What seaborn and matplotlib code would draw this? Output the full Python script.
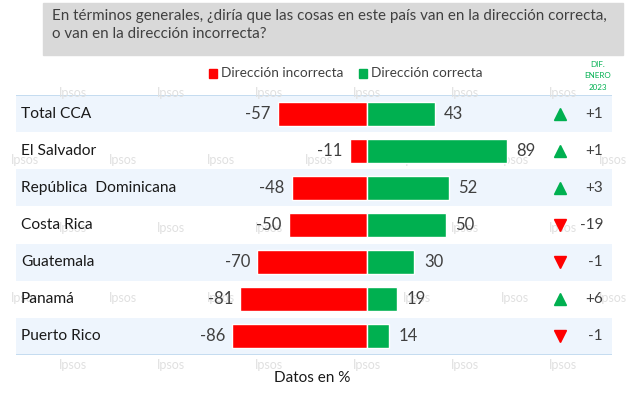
import numpy as np
import pandas as pd
import seaborn as sns
import matplotlib.pyplot as plt
from matplotlib import transforms

# Data
paises = ["Total CCA", "El Salvador", "República  Dominicana", "Costa Rica",
          "Guatemala", "Panamá", "Puerto Rico"]
incorrecta = [-57, -11, -48, -50, -70, -81, -86]
correcta = [43, 89, 52, 50, 30, 19, 14]
dif_enero = [1, 1, 3, -19, -1, 6, -1]

titulo = ("En términos generales, ¿diría que las cosas en este país van en la dirección correcta,\n"
          "o van en la dirección incorrecta?")

ROJO = "#ff0000"
VERDE = "#00b050"
BANDA = "#eef5fd"
GRIS = "#404040"

sns.set_style("white")
plt.rcParams["font.family"] = ["Lato", "DejaVu Sans"]

W, H = 636, 394
fig = plt.figure(figsize=(W / 100, H / 100), dpi=100)

def fx(px):
    return px / W

def fy(py):
    return 1 - py / H

# axes covering the band area (pixels 16..612 x 95..355)
ax = fig.add_axes([fx(16), fy(355), fx(612) - fx(16), fy(95) - fy(355)])

df = pd.DataFrame({"pais": paises, "incorrecta": incorrecta, "correcta": correcta})
sns.barplot(data=df, x="incorrecta", y="pais", color=ROJO, orient="h",
            width=0.65, ax=ax, saturation=1, zorder=3)
sns.barplot(data=df, x="correcta", y="pais", color=VERDE, orient="h",
            width=0.65, ax=ax, saturation=1, zorder=3)

zero_px, px_per = 367, 1.57
ax.set_xlim((16 - zero_px) / px_per, (612 - zero_px) / px_per)
ax.set_ylim(len(paises) - 0.5, -0.5)

# alternating bands
for i in range(len(paises)):
    if i % 2 == 0:
        ax.axhspan(i - 0.5, i + 0.5, color=BANDA, zorder=0, lw=0)
ax.axhline(-0.5, color="#bdd7ee", lw=1.2, zorder=1)
ax.axhline(len(paises) - 0.5, color="#bdd7ee", lw=1.2, zorder=1)

# value labels
ax.bar_label(ax.containers[0], labels=[str(v) for v in incorrecta], padding=5,
             fontsize=12, color=GRIS, zorder=4)
ax.bar_label(ax.containers[1], labels=[str(v) for v in correcta], padding=7,
             fontsize=12, color=GRIS, zorder=4)

trans = transforms.blended_transform_factory(ax.transAxes, ax.transData)
for i, (p, d) in enumerate(zip(paises, dif_enero)):
    ax.text(0.008, i, p, transform=trans, ha="left", va="center",
            fontsize=11.2, color="#1a1a1a", zorder=4)
    if d > 0:
        ax.plot([0.912], [i], marker="^", color=VERDE, ms=8, transform=trans,
                clip_on=False, zorder=4)
    else:
        ax.plot([0.912], [i], marker="v", color=ROJO, ms=8, transform=trans,
                clip_on=False, zorder=4)
    ax.text(0.985, i, f"{d:+d}", transform=trans, ha="right", va="center",
            fontsize=11, color=GRIS, zorder=4)

ax.set_axis_off()

# "Ipsos" watermarks, under the bars
for wy, x0 in [(93, 73), (160, 25), (228, 73), (298, 25), (365, 73)]:
    for k in range(7):
        wx = x0 + 98 * k
        if wx < 630:
            ax.text(fx(wx), fy(wy), "Ipsos", ha="center", va="center",
                    fontsize=9, color="#e0e0e0", transform=fig.transFigure,
                    zorder=1, clip_on=False)

# title box
fig.patches.append(plt.Rectangle((fx(43), fy(55)), fx(623) - fx(43), fy(3) - fy(55),
                                 transform=fig.transFigure, color="#d9d9d9", zorder=1))
fig.text(fx(52), fy(25), titulo, ha="left", va="center", fontsize=10.9,
         color="#404040", linespacing=1.35, zorder=2)

# legend
fig.patches.append(plt.Rectangle((fx(209), fy(78)), fx(8) - fx(0), fy(0) - fy(9),
                                 transform=fig.transFigure, color=ROJO))
fig.text(fx(221), fy(73), "Dirección incorrecta", ha="left", va="center",
         fontsize=9.8, color=GRIS)
fig.patches.append(plt.Rectangle((fx(359), fy(78)), fx(8) - fx(0), fy(0) - fy(9),
                                 transform=fig.transFigure, color=VERDE))
fig.text(fx(371), fy(73), "Dirección correcta", ha="left", va="center",
         fontsize=9.8, color=GRIS)

fig.text(fx(598), fy(76), "DIF.\nENERO\n2023", ha="center", va="center",
         fontsize=5.8, color=VERDE, linespacing=1.7)

fig.text(fx(312), fy(378), "Datos en %", ha="center", va="center",
         fontsize=11, color="#1a1a1a")

fig.savefig("out.png", dpi=100)
